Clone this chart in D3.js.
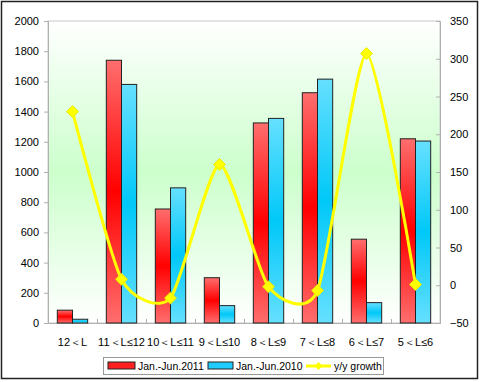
<!DOCTYPE html>
<html>
<head>
<meta charset="utf-8">
<script src="https://cdn.jsdelivr.net/npm/d3@7"></script>
<style>
  body { margin: 0; background: #fff; }
  text { font-family: "Liberation Sans", Arial, sans-serif; font-size: 11px; fill: #000; }
</style>
</head>
<body>
<svg id="chart" width="480" height="382"></svg>
<script>
var categories = ['12＜L', '11＜L≤12', '10＜L≤11', '9＜L≤10', '8＜L≤9', '7＜L≤8', '6＜L≤7', '5＜L≤6']
var sales2011 = [85, 1740, 755, 300, 1325, 1525, 555, 1220]
var sales2010 = [25, 1580, 895, 115, 1355, 1615, 135, 1205]
var growth = [230, 8, -17, 160, -2, -7, 307, 1]
var leftTicks = [0, 200, 400, 600, 800, 1000, 1200, 1400, 1600, 1800, 2000]
var rightTicks = [-50, 0, 50, 100, 150, 200, 250, 300, 350]

var svg = d3.select('#chart')
var plotLeft = 48, plotRight = 440, plotTop = 21, plotBottom = 323

var defs = svg.append('defs')
// plot background: white -> light green -> white
var bg = defs.append('linearGradient').attr('id', 'bg')
  .attr('x1', 0).attr('y1', 0).attr('x2', 0).attr('y2', 1)
bg.append('stop').attr('offset', '0%').attr('stop-color', '#ffffff')
bg.append('stop').attr('offset', '50%').attr('stop-color', '#ccffcc')
bg.append('stop').attr('offset', '100%').attr('stop-color', '#ffffff')

function barGrad(id, light, dark) {
  var g = defs.append('linearGradient').attr('id', id)
    .attr('x1', 0).attr('y1', 0).attr('x2', 0).attr('y2', 1)
  g.append('stop').attr('offset', '0%').attr('stop-color', light)
  g.append('stop').attr('offset', '50%').attr('stop-color', dark)
  g.append('stop').attr('offset', '100%').attr('stop-color', light)
}
barGrad('red', '#ff6e6e', '#ff0000')
barGrad('blue', '#66e0ff', '#00c8f8')

// outer frame
svg.append('rect').attr('x', 1.5).attr('y', 1.5).attr('width', 476).attr('height', 377)
  .attr('fill', '#fff').attr('stroke', '#222').attr('stroke-width', 1.5)

// plot area
svg.append('rect').attr('x', plotLeft).attr('y', plotTop)
  .attr('width', plotRight - plotLeft).attr('height', plotBottom - plotTop)
  .attr('fill', 'url(#bg)').attr('stroke', '#c8c8c8')

var x0 = d3.scaleBand().domain(categories).range([plotLeft, plotRight]).paddingInner(0.38).paddingOuter(0.19)
var x1 = d3.scaleBand().domain(['a', 'b']).range([0, x0.bandwidth()])
var xc = d3.scalePoint().domain(categories).range([plotLeft, plotRight]).padding(0.5)
var yL = d3.scaleLinear().domain([0, 2000]).range([plotBottom, plotTop])
var yR = d3.scaleLinear().domain([-50, 350]).range([plotBottom, plotTop])

// axes
var axL = svg.append('g').attr('transform', 'translate(' + plotLeft + ',0)')
  .call(d3.axisLeft(yL).tickValues(leftTicks).tickFormat(d3.format('d')).tickSize(4).tickPadding(5))
var axR = svg.append('g').attr('transform', 'translate(' + plotRight + ',0)')
  .call(d3.axisRight(yR).tickValues(rightTicks).tickFormat(d3.format('d')).tickSize(-4).tickPadding(10))
var axB = svg.append('g').attr('transform', 'translate(0,' + plotBottom + ')')
  .call(d3.axisBottom(d3.scaleLinear().domain([0, categories.length]).range([plotLeft, plotRight]))
    .ticks(categories.length).tickSize(-4).tickFormat(''))
;[axL, axR, axB].forEach(function(a) {
  a.selectAll('.domain').attr('stroke', '#b0b0b0')
  a.selectAll('.tick line').attr('stroke', '#b0b0b0')
  a.selectAll('text').style('font-size', '11px').style('font-family', '"Liberation Sans", Arial, sans-serif').attr('fill', '#000')
})

svg.append('g').selectAll('text').data(categories).enter().append('text')
  .attr('x', function(d) { return xc(d) })
  .attr('y', 346)
  .attr('text-anchor', 'middle')
  .text(function(d) { return d })

// bars
var groups = svg.append('g').selectAll('g').data(categories).enter().append('g')
  .attr('transform', function(d) { return 'translate(' + x0(d) + ',0)' })
groups.append('rect')
  .attr('x', x1('a')).attr('width', x1.bandwidth())
  .attr('y', function(d, i) { return yL(sales2011[i]) })
  .attr('height', function(d, i) { return plotBottom - yL(sales2011[i]) })
  .attr('fill', 'url(#red)').attr('stroke', '#222').attr('stroke-width', 1)
groups.append('rect')
  .attr('x', x1('b')).attr('width', x1.bandwidth())
  .attr('y', function(d, i) { return yL(sales2010[i]) })
  .attr('height', function(d, i) { return plotBottom - yL(sales2010[i]) })
  .attr('fill', 'url(#blue)').attr('stroke', '#222').attr('stroke-width', 1)

// growth line (smoothed like excel, a bit tighter than catmull-rom)
var line = d3.line()
  .x(function(d, i) { return xc(categories[i]) })
  .y(function(d) { return yR(d) })
  .curve(d3.curveCardinal.tension(0.35))
svg.append('path').datum(growth).attr('d', line)
  .attr('fill', 'none').attr('stroke', '#ffff00').attr('stroke-width', 3)
svg.append('g').selectAll('path').data(growth).enter().append('path')
  .attr('d', d3.symbol().type(d3.symbolDiamond2).size(90))
  .attr('transform', function(d, i) { return 'translate(' + xc(categories[i]) + ',' + yR(d) + ')' })
  .attr('fill', '#ffff00').attr('stroke', '#e8e800')

// legend
var lg = svg.append('g')
lg.append('rect').attr('x', 103.5).attr('y', 357.5).attr('width', 280).attr('height', 17)
  .attr('fill', '#fff').attr('stroke', '#999')
lg.append('rect').attr('x', 108).attr('y', 362).attr('width', 27).attr('height', 7)
  .attr('fill', '#ff2020').attr('stroke', '#222')
lg.append('text').attr('x', 138).attr('y', 370).style('font-size', '10.5px').text('Jan.-Jun.2011')
lg.append('rect').attr('x', 208).attr('y', 362).attr('width', 25).attr('height', 7)
  .attr('fill', '#20ccff').attr('stroke', '#222')
lg.append('text').attr('x', 236).attr('y', 370).style('font-size', '10.5px').text('Jan.-Jun.2010')
lg.append('line').attr('x1', 306).attr('x2', 331).attr('y1', 366).attr('y2', 366)
  .attr('stroke', '#ffff00').attr('stroke-width', 3)
lg.append('path').attr('d', d3.symbol().type(d3.symbolDiamond2).size(40))
  .attr('transform', 'translate(318.5,366)').attr('fill', '#ffff00')
lg.append('text').attr('x', 334).attr('y', 370).style('font-size', '10.5px').text('y/y growth')
</script>
</body>
</html>
